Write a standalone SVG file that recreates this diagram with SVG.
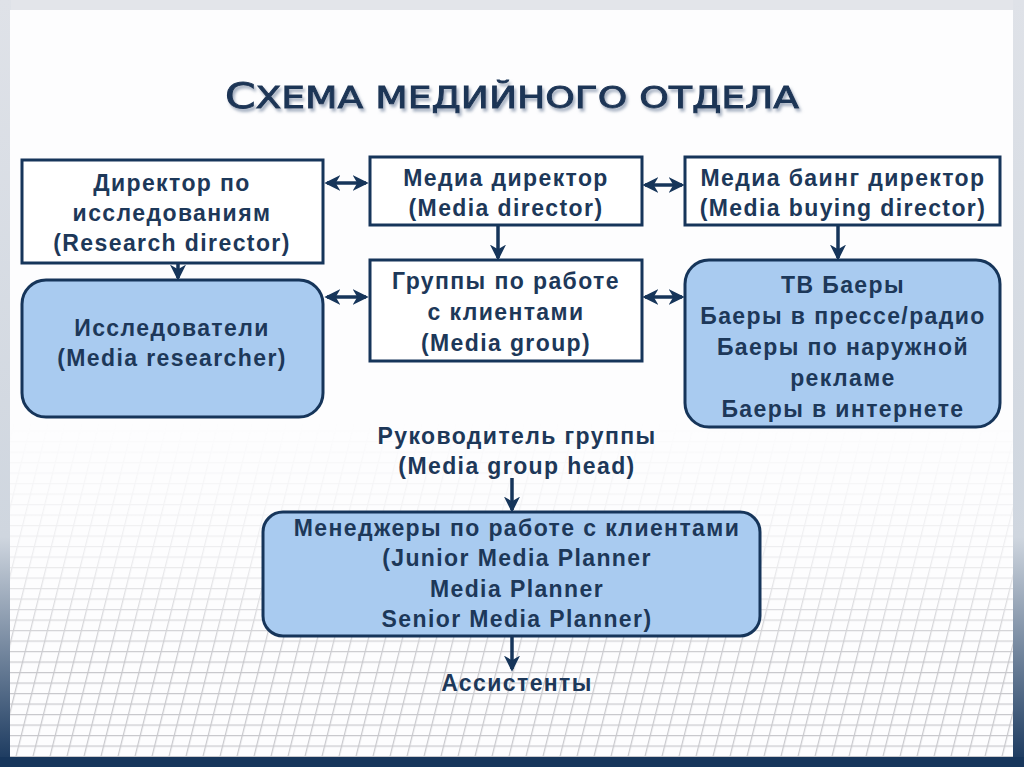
<svg xmlns="http://www.w3.org/2000/svg" width="1024" height="767" viewBox="0 0 1024 767">
<style>
.t{font-family:"Liberation Sans",Arial,sans-serif;font-size:23px;font-weight:bold;fill:#1d3859;text-anchor:middle;letter-spacing:1.4px}
.box{fill:#fff;stroke:#16355a;stroke-width:3}
.rbox{fill:#a9cbf0;stroke:#16355a;stroke-width:3}
.c{stroke:#16355a;stroke-width:3.5;fill:none}
</style>
<defs>
<linearGradient id="lb" x1="0" y1="0" x2="0" y2="1"><stop offset="0" stop-color="#dfe2e8"/><stop offset="0.7" stop-color="#cfd6df"/><stop offset="1" stop-color="#17365c"/></linearGradient>
<linearGradient id="gm" x1="0" y1="0" x2="0" y2="1"><stop offset="0" stop-color="#fff" stop-opacity="0"/><stop offset="0.4" stop-color="#fff" stop-opacity="0.3"/><stop offset="0.7" stop-color="#fff" stop-opacity="1"/><stop offset="1" stop-color="#fff" stop-opacity="1"/></linearGradient>
<mask id="fade"><rect x="0" y="420" width="1024" height="347" fill="url(#gm)"/></mask>
<pattern id="grid" width="17" height="10.5" patternUnits="userSpaceOnUse" patternTransform="skewX(-14)">
<path d="M0 0.5H17M0.5 0V10.5" stroke="#c8c8cc" stroke-width="1.5" fill="none"/>
</pattern>
<marker id="ah" viewBox="0 0 12 12" refX="10" refY="6" markerWidth="4.6" markerHeight="4.6" orient="auto-start-reverse" markerUnits="strokeWidth">
<path d="M0 0L12 6L0 12L3.5 6Z" fill="#16355a"/>
</marker>
<filter id="sh" x="-5%" y="-30%" width="110%" height="160%"><feDropShadow dx="2" dy="3" stdDeviation="1.5" flood-color="#7d8ea6" flood-opacity="0.7"/></filter>
</defs>
<rect width="1024" height="767" fill="#e3e5ea"/>
<rect x="0" y="0" width="11" height="767" fill="url(#lb)"/>
<rect x="1013" y="0" width="11" height="767" fill="url(#lb)"/>
<rect x="0" y="757" width="1024" height="10" fill="#17365c"/>
<rect x="10" y="10" width="1003" height="747" fill="#fdfdfe"/>
<rect x="10" y="420" width="1003" height="337" fill="url(#grid)" mask="url(#fade)"/>
<text x="512" y="108" font-family="DejaVu Sans,sans-serif" font-size="30" fill="#1c3556" stroke="#1c3556" stroke-width="0.9" text-anchor="middle" textLength="574" lengthAdjust="spacingAndGlyphs" filter="url(#sh)"><tspan font-size="35">С</tspan>ХЕМА  МЕДИЙНОГО  ОТДЕЛА</text>
<g id="connectors">
<line class="c" x1="327" y1="183" x2="366" y2="183" marker-start="url(#ah)" marker-end="url(#ah)"/>
<line class="c" x1="327" y1="297" x2="366" y2="297" marker-start="url(#ah)" marker-end="url(#ah)"/>
<line class="c" x1="645" y1="185" x2="682" y2="185" marker-start="url(#ah)" marker-end="url(#ah)"/>
<line class="c" x1="645" y1="297" x2="682" y2="297" marker-start="url(#ah)" marker-end="url(#ah)"/>
<line class="c" x1="178" y1="264" x2="178" y2="278" marker-end="url(#ah)"/>
<line class="c" x1="498" y1="226" x2="498" y2="258" marker-end="url(#ah)"/>
<line class="c" x1="838" y1="226" x2="838" y2="258" marker-end="url(#ah)"/>
<line class="c" x1="512" y1="478" x2="512" y2="510" marker-end="url(#ah)"/>
<line class="c" x1="512" y1="637" x2="512" y2="669" marker-end="url(#ah)"/>
</g>
<g id="research-director"><rect class="box" x="22" y="160" width="301" height="103"/>
<text class="t" x="172" y="191">Директор по</text><text class="t" x="172" y="221">исследованиям</text><text class="t" x="172" y="251">(Research director)</text></g>
<g id="media-director"><rect class="box" x="370" y="157" width="272" height="68"/>
<text class="t" x="506" y="186">Медиа директор</text><text class="t" x="506" y="216">(Media director)</text></g>
<g id="media-buying-director"><rect class="box" x="685" y="157" width="315" height="68"/>
<text class="t" x="843" y="186">Медиа баинг директор</text><text class="t" x="843" y="216">(Media buying director)</text></g>
<g id="researchers"><rect class="rbox" x="22" y="280" width="301" height="137" rx="24"/>
<text class="t" x="172" y="336">Исследователи</text><text class="t" x="172" y="366">(Media researcher)</text></g>
<g id="media-group"><rect class="box" x="370" y="260" width="272" height="101"/>
<text class="t" x="506" y="289">Группы по работе</text><text class="t" x="506" y="320">с клиентами</text><text class="t" x="506" y="351">(Media group)</text></g>
<g id="buyers"><rect class="rbox" x="685" y="260" width="315" height="167" rx="24"/>
<text class="t" x="843" y="293">ТВ Баеры</text><text class="t" x="843" y="324">Баеры в прессе/радио</text><text class="t" x="843" y="355">Баеры по наружной</text><text class="t" x="843" y="386">рекламе</text><text class="t" x="843" y="417">Баеры в интернете</text></g>
<g id="group-head">
<text class="t" x="517" y="444">Руководитель группы</text><text class="t" x="517" y="474">(Media group head)</text></g>
<g id="managers"><rect class="rbox" x="263" y="512" width="497" height="124" rx="20"/>
<text class="t" x="517" y="536">Менеджеры по работе с клиентами</text><text class="t" x="517" y="566">(Junior Media Planner</text><text class="t" x="517" y="597">Media Planner</text><text class="t" x="517" y="627">Senior Media Planner)</text></g>
<g id="assistants"><text class="t" x="517" y="691">Ассистенты</text></g>
</svg>
